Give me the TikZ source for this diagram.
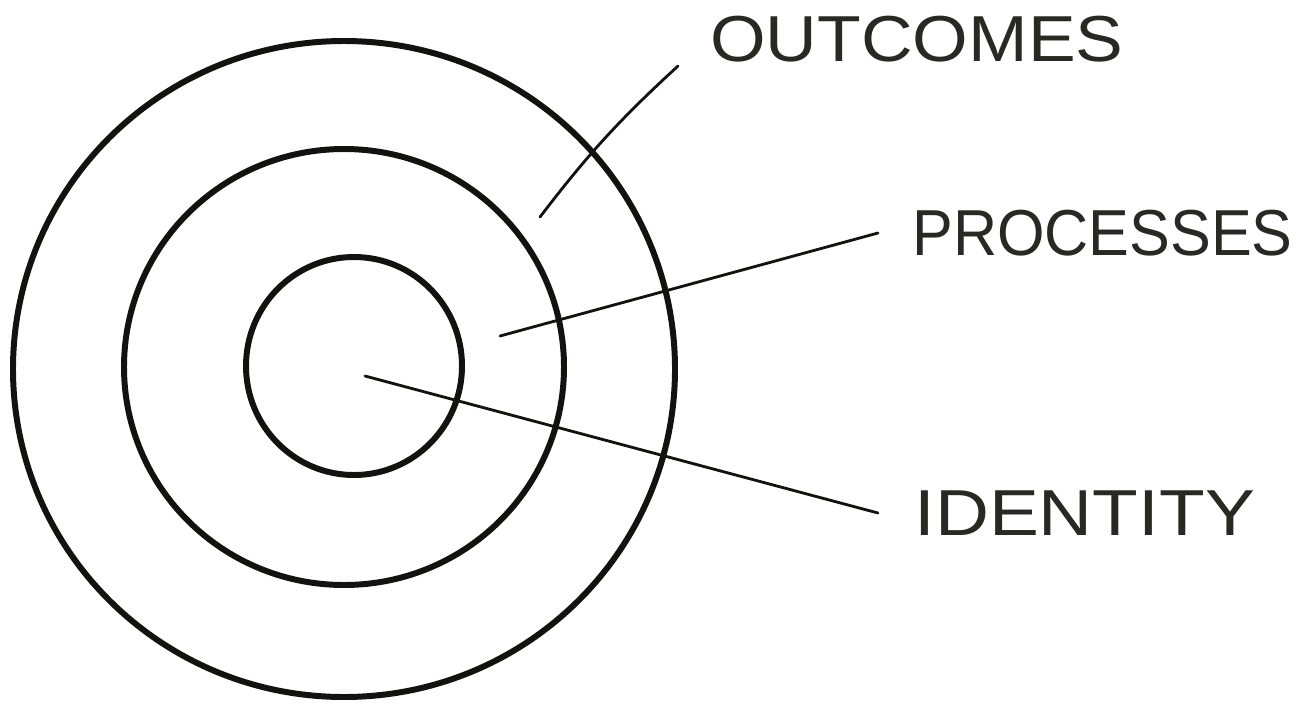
\documentclass[tikz,border=0pt]{standalone}
\usepackage{fontspec}
\setmainfont{Liberation Sans}
\definecolor{ink}{HTML}{141210}
\definecolor{txt}{HTML}{2A2822}
\begin{document}
\begin{tikzpicture}[x=0.02cm,y=-0.02cm,
  ring/.style={draw=ink,line width=3.4pt},
  leader/.style={draw=ink,line width=1.6pt,line cap=round},
  lbl/.style={inner ysep=0pt,text=txt,font=\fontsize{37}{40}\selectfont}]
\useasboundingbox[fill=white] (0,0) rectangle (1310,703);
% rings
\draw[ring] (344,369) ellipse [x radius=331, y radius=328];
\draw[ring] (344,367) ellipse [x radius=220, y radius=218];
\draw[ring] (354,366) ellipse [x radius=108, y radius=109];
% pin points
\coordinate (pOut) at (540,217);
\coordinate (pProc) at (500,336);
\coordinate (pId) at (365,376);
% labels
\node[lbl,anchor=south west,inner xsep=0.64cm,inner ysep=0.08cm] (outcomes) at (678,66) {\scalebox{1.10}[1]{OUTCOMES}};
\node[lbl,anchor=west,inner xsep=0.68cm] (processes) at (878,233) {\scalebox{0.94}[1]{PROCESSES}};
\node[lbl,anchor=west,inner xsep=0.72cm] (identity) at (878,513) {\scalebox{1.15}[1]{IDENTITY}};
% leaders
\draw[leader] (pOut) to[bend left=5] (outcomes.south west);
\draw[leader] (pProc) -- (processes.west);
\draw[leader] (pId) -- (identity.west);
\end{tikzpicture}
\end{document}
